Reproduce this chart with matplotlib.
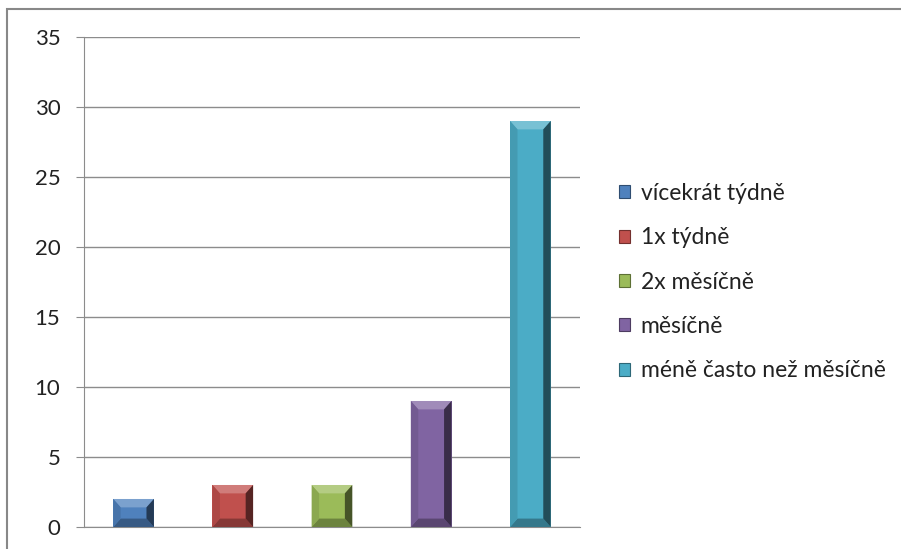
import numpy as np
import matplotlib
matplotlib.use("Agg")
import matplotlib.pyplot as plt
from matplotlib.patches import Polygon, Rectangle
import matplotlib.colors as mcolors

plt.rcParams['font.family'] = ['Lato', 'DejaVu Sans']

# data
labels = ["vícekrát týdně", "1x týdně", "2x měsíčně", "měsíčně", "méně často než měsíčně"]
values = [2, 3, 3, 9, 29]
colors = ["#4F81BD", "#C0504D", "#9BBB59", "#8064A2", "#4BACC6"]
yticks = [0, 5, 10, 15, 20, 25, 30, 35]


def shade(c, f):
    r, g, b = mcolors.to_rgb(c)
    if f > 1:
        return (r + (1 - r) * (f - 1), g + (1 - g) * (f - 1), b + (1 - b) * (f - 1))
    return (r * f, g * f, b * f)


fig = plt.figure(figsize=(9.01, 5.49), dpi=100)
ax = fig.add_axes([0.0932, 0.0401, 0.5505, 0.8925])

x = np.arange(len(values))
w = 0.41
bars = ax.bar(x, values, width=w, color=colors, edgecolor="none", zorder=3)

# bevel look (like excel 2007)
bx = 0.075
by = 0.6
for xi, v, c in zip(x, values, colors):
    x0, x1 = xi - w / 2, xi + w / 2
    top = Polygon([(x0, v), (x1, v), (x1 - bx, v - by), (x0 + bx, v - by)],
                  closed=True, facecolor=shade(c, 1.25), edgecolor="none", zorder=4)
    bot = Polygon([(x0, 0), (x1, 0), (x1 - bx, by), (x0 + bx, by)],
                  closed=True, facecolor=shade(c, 0.7), edgecolor="none", zorder=4)
    left = Polygon([(x0, 0), (x0 + bx, by), (x0 + bx, v - by), (x0, v)],
                   closed=True, facecolor=shade(c, 0.9), edgecolor="none", zorder=4)
    right = Polygon([(x1, 0), (x1 - bx, by), (x1 - bx, v - by), (x1, v)],
                    closed=True, facecolor=shade(c, 0.45), edgecolor="none", zorder=4)
    for p in (top, bot, left, right):
        ax.add_patch(p)

ax.set_xlim(-0.5, len(values) - 0.5)
ax.set_ylim(0, 35)
ax.set_yticks(yticks)
ax.set_xticks([])
ax.yaxis.grid(True, color="#8c8c8c", linewidth=1)
ax.set_axisbelow(True)
for s in ("top", "right"):
    ax.spines[s].set_visible(False)
ax.spines["left"].set_color("#8c8c8c")
ax.spines["bottom"].set_color("#8c8c8c")
ax.tick_params(axis="y", length=6, color="#8c8c8c", pad=11, labelsize=16, labelcolor="#222222")

handles = [Rectangle((0, 0), 1, 1, facecolor=c, edgecolor=shade(c, 0.6), linewidth=0.8) for c in colors]
fig.legend(handles, labels, loc="center left", bbox_to_anchor=(0.664, 0.486),
           frameon=False, fontsize=16.5, handlelength=0.5, handleheight=0.5,
           handletextpad=0.45, labelspacing=1.02, labelcolor="#222222")

# chart border
fig.patches.append(Rectangle((7 / 901, -0.05), 1.0, 1 - 9 / 549 + 0.05, transform=fig.transFigure,
                             fill=False, edgecolor="#888888", linewidth=1.5, clip_on=False))

fig.savefig("out.png", dpi=100)
